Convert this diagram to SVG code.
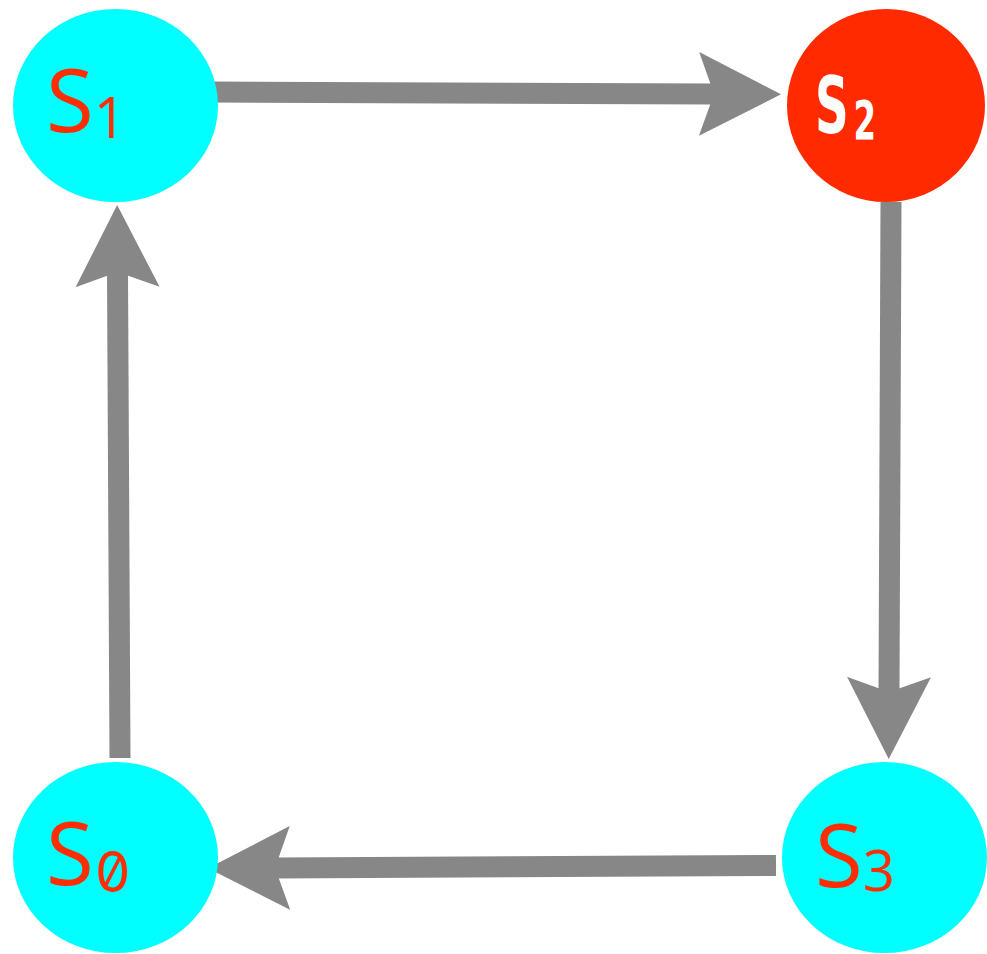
<svg xmlns="http://www.w3.org/2000/svg" width="987" height="954" viewBox="0 0 987 954">
  <style>
    .state { fill: #00FFFF; }
    .active { fill: #FF2A00; }
    .lbl { font-family: "Open Sans", "DejaVu Sans", sans-serif; fill: #FF2D00; }
    .lbl-on { font-family: "DejaVu Sans", sans-serif; font-weight: bold; fill: #FFFFFF; }
    .zero { font-family: Inter, "DejaVu Sans Mono", monospace; font-feature-settings: "zero" 1; }
    .edge { stroke: #878787; stroke-width: 21; fill: none; marker-end: url(#head); }
  </style>
  <defs>
    <marker id="head" markerUnits="userSpaceOnUse" viewBox="0 0 82 84" markerWidth="82" markerHeight="84" refX="15" refY="42" orient="auto">
      <path d="M0,0 L82,42 L0,84 L15,42 Z" fill="#878787"/>
    </marker>
  </defs>

  <g id="connectors">
    <line class="edge" x1="213" y1="92" x2="714" y2="94"/>
    <line class="edge" x1="891" y1="202" x2="889" y2="692"/>
    <line class="edge" x1="776" y1="865.5" x2="275" y2="868"/>
    <line class="edge" x1="120" y1="758" x2="117.5" y2="272"/>
  </g>

  <g id="s1">
    <ellipse class="state" cx="115.5" cy="105.5" rx="102.5" ry="96.5"/>
    <text class="lbl" x="46" y="132" font-size="87">S<tspan font-size="56" dy="6">1</tspan></text>
  </g>

  <g id="s2">
    <ellipse class="active" cx="886" cy="105.5" rx="99" ry="96.5"/>
    <!-- narrow bold label, squeezed horizontally -->
    <text class="lbl-on" transform="translate(815,133) scale(0.6,1)" font-size="78">S<tspan font-size="54" dx="8" dy="6">2</tspan></text>
  </g>

  <g id="s0">
    <ellipse class="state" cx="115.5" cy="857.5" rx="102.5" ry="95.5"/>
    <text class="lbl" x="46" y="885" font-size="87">S<tspan class="zero" x="95" dy="7" font-size="56">0</tspan></text>
  </g>

  <g id="s3">
    <ellipse class="state" cx="884.5" cy="857.5" rx="102.5" ry="95.5"/>
    <text class="lbl" x="815" y="887" font-size="87">S<tspan font-size="56" dy="4">3</tspan></text>
  </g>
</svg>
